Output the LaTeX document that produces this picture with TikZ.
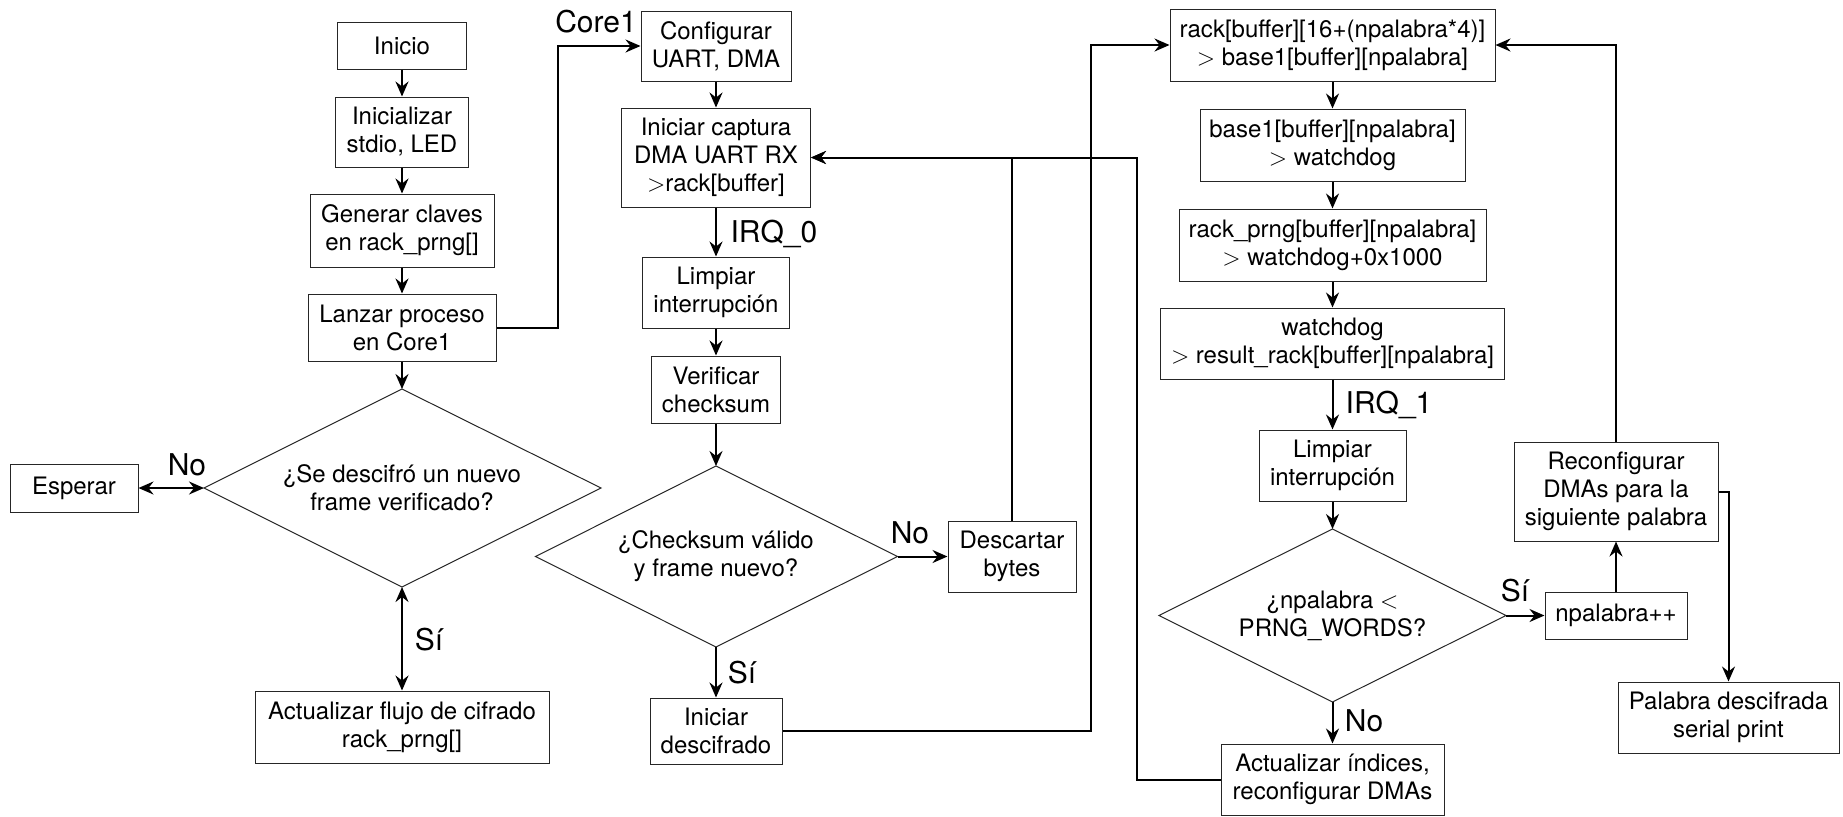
\documentclass[tikz,border=0pt]{standalone}
\usepackage{fontspec}
\setmainfont{TeX Gyre Heros}
\usetikzlibrary{arrows.meta}
\begin{document}
\begin{tikzpicture}[x=0.5pt,y=-0.5pt,
  box/.style={draw=black!85, line width=0.5pt, rectangle, inner sep=0pt, align=center, font=\fontsize{12}{14}\selectfont},
  diatext/.style={inner sep=0pt, align=center, font=\fontsize{12}{14}\selectfont},
  diaD/.style={draw=black!85, line width=0.5pt, line join=miter},
  tip/.style={Stealth[length=7.5pt,width=6.5pt,inset=2.5pt]},
  conn/.style={line width=1pt, -{Stealth[length=7.5pt,width=6.5pt,inset=2.5pt]}},
  both/.style={line width=1pt, {Stealth[length=7.5pt,width=6.5pt,inset=2.5pt]}-{Stealth[length=7.5pt,width=6.5pt,inset=2.5pt]}},
  lbl/.style={font=\fontsize{15}{18}\selectfont, inner sep=0pt}]
\useasboundingbox (0,0) rectangle (1843,816);

% column 1
\node[box, minimum width=64.5pt, minimum height=23.5pt] (inicio) at (402,45.5) {Inicio};
\node[box, minimum width=66.5pt, minimum height=35pt] (init) at (402,132) {Inicializar\\stdio, LED};
\node[box, minimum width=92pt, minimum height=36.5pt] (gen) at (402,230.5) {Generar claves\\en rack\_prng[]};
\node[box, minimum width=94pt, minimum height=33.5pt] (lanzar) at (402,327.5) {Lanzar proceso\\en Core1};
\coordinate (d1n) at (402,389);
\coordinate (d1e) at (601,488);
\coordinate (d1s) at (402,587);
\coordinate (d1w) at (204,488);
\draw[diaD] (d1n) -- (d1e) -- (d1s) -- (d1w) -- cycle;
\node[diatext] (dec1) at (402,488) {¿Se descifró un nuevo\\frame verificado?};
\node[box, minimum width=64pt, minimum height=24pt] (esperar) at (74,488) {Esperar};
\node[box, minimum width=147pt, minimum height=36pt] (actflujo) at (402,727) {Actualizar flujo de cifrado\\rack\_prng[]};

% column 2
\node[box, minimum width=75pt, minimum height=35pt] (config) at (716,46) {Configurar\\UART, DMA};
\node[box, minimum width=94.5pt, minimum height=49.5pt] (captura) at (716,157.5) {Iniciar captura\\DMA UART RX\\$>$rack[buffer]};
\node[box, minimum width=73.5pt, minimum height=35.5pt] (limp1) at (716,292.5) {Limpiar\\interrupción};
\node[box, minimum width=64.5pt, minimum height=33.5pt] (verif) at (716,389.5) {Verificar\\checksum};
\coordinate (d2n) at (716,466);
\coordinate (d2e) at (897.5,556.5);
\coordinate (d2s) at (716,647);
\coordinate (d2w) at (535.5,556.5);
\draw[diaD] (d2n) -- (d2e) -- (d2s) -- (d2w) -- cycle;
\node[diatext] (dec2) at (716,556.5) {¿Checksum válido\\y frame nuevo?};
\node[box, minimum width=64pt, minimum height=35.5pt] (descartar) at (1012,556.5) {Descartar\\bytes};
\node[box, minimum width=66pt, minimum height=33pt] (inidesc) at (716,731) {Iniciar\\descifrado};

% column 3
\node[box, minimum width=162.5pt, minimum height=36pt] (rack) at (1332.5,45) {rack[buffer][16+(npalabra*4)]\\$>$ base1[buffer][npalabra]};
\node[box, minimum width=132.5pt, minimum height=36pt] (base1) at (1332.5,145) {base1[buffer][npalabra]\\$>$ watchdog};
\node[box, minimum width=153.5pt, minimum height=36pt] (prng) at (1332.5,245) {rack\_prng[buffer][npalabra]\\$>$ watchdog+0x1000};
\node[box, minimum width=172pt, minimum height=35.5pt] (wd) at (1332.5,343.5) {watchdog\\$>$ result\_rack[buffer][npalabra]};
\node[box, minimum width=73.5pt, minimum height=35.5pt] (limp2) at (1332.5,465.5) {Limpiar\\interrupción};
\coordinate (d3n) at (1332.5,529);
\coordinate (d3e) at (1506,615.5);
\coordinate (d3s) at (1332.5,702);
\coordinate (d3w) at (1159,615.5);
\draw[diaD] (d3n) -- (d3e) -- (d3s) -- (d3w) -- cycle;
\node[diatext] (dec3) at (1332.5,615.5) {¿npalabra $<$\\PRNG\_WORDS?};
\node[box, minimum width=111.5pt, minimum height=35.5pt] (actind) at (1332.5,779.5) {Actualizar índices,\\reconfigurar DMAs};

% column 4
\node[box, minimum width=102pt, minimum height=49.5pt] (reconf) at (1616,491.5) {Reconfigurar\\DMAs para la\\siguiente palabra};
\node[box, minimum width=71pt, minimum height=23.5pt] (npal) at (1616,615.5) {npalabra++};
\node[box, minimum width=110.5pt, minimum height=35.5pt] (palabra) at (1728.5,717.5) {Palabra descifrada\\serial print};

% bend points
\coordinate (k1) at (557.5,46);
\coordinate (k2) at (1012,157.5);
\coordinate (k3) at (1091,45);
\coordinate (k4) at (1137,157.5);
\coordinate (k5) at (1616,45);
\coordinate (k6) at (1728.5,491.5);

% connectors column 1
\draw[conn] (inicio) -- (init);
\draw[conn] (init) -- (gen);
\draw[conn] (gen) -- (lanzar);
\draw[conn] (lanzar) -- (d1n);
\draw[both] (d1w) -- (esperar.east);
\draw[both] (d1s) -- (actflujo.north);
\draw[conn] (lanzar.east) -| (k1) -- (config.west);

% connectors column 2
\draw[conn] (config) -- (captura);
\draw[conn] (captura) -- (limp1);
\draw[conn] (limp1) -- (verif);
\draw[conn] (verif) -- (d2n);
\draw[conn] (d2e) -- (descartar.west);
\draw[conn] (d2s) -- (inidesc.north);
\draw[conn] (descartar.north) -- (k2) -- (captura.east);
\draw[conn] (inidesc.east) -| (k3) -- (rack.west);
\draw[conn] (actind.west) -| (k4) -- (captura.east);

% connectors column 3
\draw[conn] (rack) -- (base1);
\draw[conn] (base1) -- (prng);
\draw[conn] (prng) -- (wd);
\draw[conn] (wd) -- (limp2);
\draw[conn] (limp2) -- (d3n);
\draw[conn] (d3e) -- (npal.west);
\draw[conn] (d3s) -- (actind.north);

% connectors column 4
\draw[conn] (npal) -- (reconf);
\draw[conn] (reconf.north) -- (k5) -- (rack.east);
\draw[conn] (reconf.east) -- (k6) -- (palabra.north);

% labels
\node[lbl] (lno1) at (187,465) {No};
\node[lbl] (lsi1) at (429,640) {Sí};
\node[lbl] (lcore) at (596,22) {Core1};
\node[lbl] (lirq0) at (774,234) {IRQ\_0};
\node[lbl] (lno2) at (910,533) {No};
\node[lbl] (lsi2) at (742,673) {Sí};
\node[lbl] (lirq1) at (1389,405) {IRQ\_1};
\node[lbl] (lsi3) at (1515,591) {Sí};
\node[lbl] (lno3) at (1364,721) {No};
\end{tikzpicture}
\end{document}
